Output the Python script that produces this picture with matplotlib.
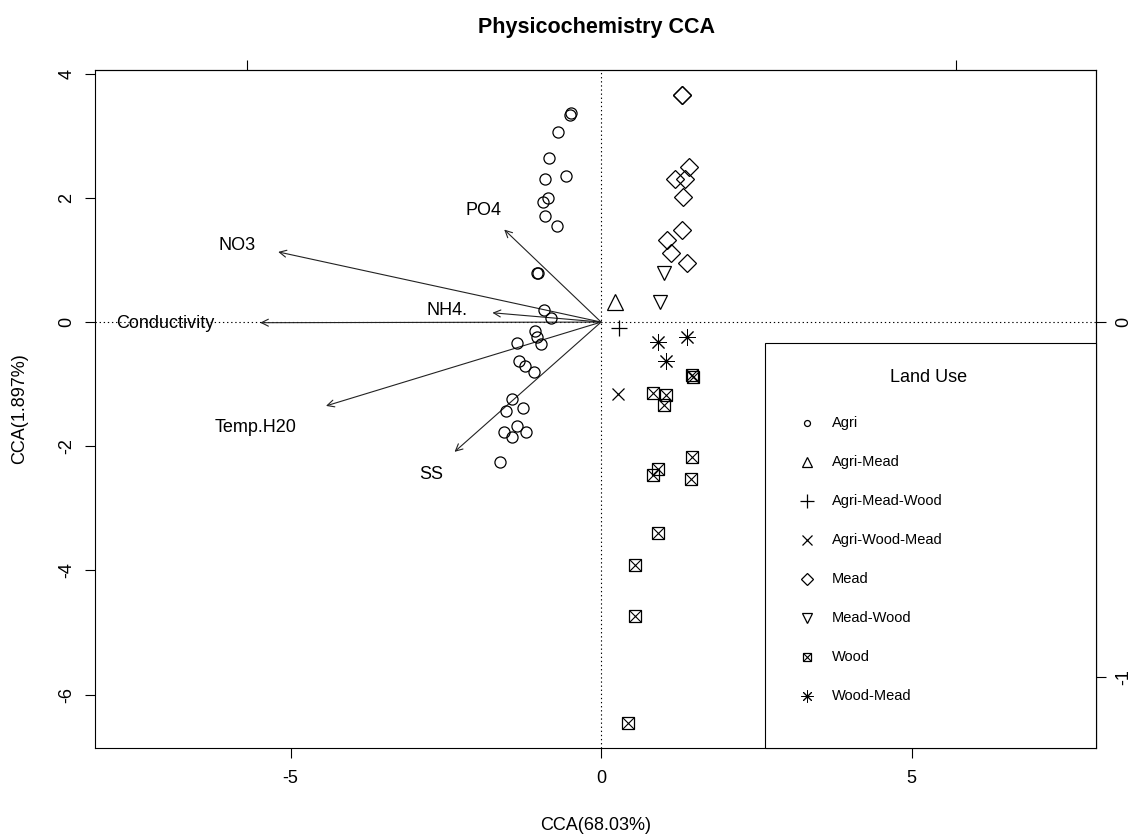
import matplotlib
matplotlib.use("Agg")
import matplotlib.pyplot as plt
from matplotlib.patches import Rectangle, FancyArrowPatch

plt.rcParams['font.family'] = ['Liberation Sans', 'DejaVu Sans']
plt.rcParams['axes.unicode_minus'] = False  # R prints a plain hyphen

# --- site scores (CCA1, CCA2), grouped by land use ---
agri_x = [-0.48, -0.50, -0.69, -0.84, -0.90, -0.57, -0.86, -0.93, -0.90, -0.71,
          -1.03, -1.01, -0.92, -0.81, -1.06, -1.04, -0.97, -1.36, -1.32, -1.22,
          -1.08, -1.44, -1.53, -1.26, -1.36, -1.56, -1.44, -1.21, -1.63]
agri_y = [3.36, 3.33, 3.06, 2.65, 2.31, 2.36, 2.00, 1.93, 1.71, 1.55,
          0.79, 0.79, 0.19, 0.06, -0.14, -0.24, -0.35, -0.34, -0.63, -0.71,
          -0.81, -1.24, -1.43, -1.39, -1.67, -1.77, -1.85, -1.77, -2.25]
agri_mead_x = [0.23]
agri_mead_y = [0.33]
agri_mead_wood_x = [0.29]
agri_mead_wood_y = [-0.09]
agri_wood_mead_x = [0.27]
agri_wood_mead_y = [-1.16]
mead_x = [1.30, 1.31, 1.41, 1.19, 1.35, 1.32, 1.30, 1.06, 1.13, 1.39]
mead_y = [3.66, 3.65, 2.50, 2.31, 2.30, 2.01, 1.48, 1.33, 1.12, 0.95]
mead_wood_x = [1.02, 0.95]
mead_wood_y = [0.79, 0.33]
wood_x = [1.46, 1.48, 0.83, 1.05, 1.01, 1.47, 0.92, 0.83, 1.45, 0.91, 0.54, 0.54, 0.43]
wood_y = [-0.86, -0.89, -1.15, -1.18, -1.33, -2.18, -2.37, -2.47, -2.52, -3.39,
          -3.92, -4.73, -6.46]
wood_mead_x = [0.92, 1.39, 1.04]
wood_mead_y = [-0.32, -0.24, -0.63]

groups = ["Agri", "Agri-Mead", "Agri-Mead-Wood", "Agri-Wood-Mead",
          "Mead", "Mead-Wood", "Wood", "Wood-Mead"]
group_xy = {
    "Agri": (agri_x, agri_y),
    "Agri-Mead": (agri_mead_x, agri_mead_y),
    "Agri-Mead-Wood": (agri_mead_wood_x, agri_mead_wood_y),
    "Agri-Wood-Mead": (agri_wood_mead_x, agri_wood_mead_y),
    "Mead": (mead_x, mead_y),
    "Mead-Wood": (mead_wood_x, mead_wood_y),
    "Wood": (wood_x, wood_y),
    "Wood-Mead": (wood_mead_x, wood_mead_y),
}

# --- environmental biplot arrows ---
env_names = ["NO3", "PO4", "NH4.", "Conductivity", "Temp.H20", "SS"]
env_x = [-5.20, -1.56, -1.75, -5.49, -4.43, -2.36]
env_y = [1.13, 1.49, 0.15, -0.01, -1.35, -2.09]
env_label_x = [-5.87, -1.90, -2.48, -7.02, -5.56, -2.74]
env_label_y = [1.24, 1.80, 0.18, -0.02, -1.69, -2.46]

SECOND_SCALE = 5.71  # ratio between the main and the top/right axes

# R pch look-alikes: (marker, size in plot, size in legend); Wood gets an x overlay
ASTER = (8, 2, 0)
styles = {
    "Agri": ("o", 8.0, 4.3),
    "Agri-Mead": ("^", 11.0, 6.5),
    "Agri-Mead-Wood": ("+", 12.0, 9.4),
    "Agri-Wood-Mead": ("x", 9.0, 6.5),
    "Mead": ("D", 9.0, 6.6),
    "Mead-Wood": ("v", 10.5, 7.2),
    "Wood": ("s", 8.5, 6.3),
    "Wood-Mead": (ASTER, 12.0, 8.6),
}

fig = plt.figure(figsize=(11.33, 8.36), dpi=100)
ax = fig.add_axes([95 / 1133, 88 / 836, 1001 / 1133, 678 / 836])
ax.set_xlim(-8.15, 7.97)
ax.set_ylim(-6.86, 4.06)

ax.axhline(0, color="black", lw=0.8, ls=(0, (1.2, 2.5)), zorder=1)
ax.axvline(0, color="black", lw=0.8, ls=(0, (1.2, 2.5)), zorder=1)


def draw_marker(axis, xs, ys, name, size, **kw):
    marker = styles[name][0]
    mew = 0.7 if name == "Wood-Mead" else 0.9
    axis.plot(xs, ys, ls="none", marker=marker, ms=size, mfc="none",
              mec="black", mew=mew, **kw)
    if name == "Wood":
        axis.plot(xs, ys, ls="none", marker="x", ms=size, mec="black",
                  mew=0.8, **kw)


for name in groups:
    xs, ys = group_xy[name]
    draw_marker(ax, xs, ys, name, styles[name][1], zorder=3)

for name, ex, ey, lx, ly in zip(env_names, env_x, env_y, env_label_x, env_label_y):
    arr = FancyArrowPatch((0, 0), (ex, ey),
                          arrowstyle="->,head_length=0.5,head_width=0.25",
                          mutation_scale=10, lw=0.8, color="#222222",
                          shrinkA=0, shrinkB=0, zorder=2)
    ax.add_patch(arr)
    ax.text(lx, ly, name, ha="center", va="center", fontsize=13, zorder=4)

# axes, ticks
ax.set_xticks([-5, 0, 5])
ax.set_yticks([-6, -4, -2, 0, 2, 4])
ax.tick_params(direction="out", length=7, width=0.8, labelsize=13,
               color="black")
ax.tick_params(axis="x", pad=9)
ax.tick_params(axis="y", pad=7, labelrotation=90)
for lbl in ax.get_yticklabels():
    lbl.set_va("center")
for sp in ax.spines.values():
    sp.set_linewidth(0.8)

top = ax.secondary_xaxis("top", functions=(lambda v: v / SECOND_SCALE,
                                           lambda v: v * SECOND_SCALE))
top.set_xticks([-1, 1])
top.set_xticklabels([])
top.tick_params(direction="out", length=7, width=0.8)
right = ax.secondary_yaxis("right", functions=(lambda v: v / SECOND_SCALE,
                                               lambda v: v * SECOND_SCALE))
right.set_yticks([-1, 0])
right.set_yticklabels(["-1", "0"])
right.tick_params(direction="out", length=7, width=0.8, labelsize=13, pad=7,
                  labelrotation=90)
for lbl in right.get_yticklabels():
    lbl.set_va("center")

# legend box drawn R-style in the lower right corner
lx0, ly_top = 0.669, 0.597
ax.add_patch(Rectangle((lx0, 0), 1 - lx0, ly_top, transform=ax.transAxes,
                       facecolor="white", edgecolor="black", lw=0.8,
                       zorder=5, clip_on=False))
ax.text(0.833, 0.547, "Land Use", transform=ax.transAxes, ha="center",
        va="center", fontsize=13, zorder=6)
row_y0, row_step = 0.479, 0.0575
for i, name in enumerate(groups):
    yy = row_y0 - i * row_step
    draw_marker(ax, [0.711], [yy], name, styles[name][2],
                transform=ax.transAxes, zorder=6, clip_on=False)
    ax.text(0.736, yy, name, transform=ax.transAxes, ha="left", va="center",
            fontsize=10.5, zorder=6)

fig.text(596 / 1133, 1 - 28 / 836, "Physicochemistry CCA", ha="center",
         va="center", fontsize=15.5, fontweight="bold")
fig.text(596 / 1133, 1 - 826 / 836, "CCA(68.03%)", ha="center", va="center",
         fontsize=13)
fig.text(20 / 1133, 1 - 409 / 836, "CCA(1.897%)", ha="center", va="center",
         fontsize=13, rotation=90)

fig.savefig("out.png", dpi=100)
